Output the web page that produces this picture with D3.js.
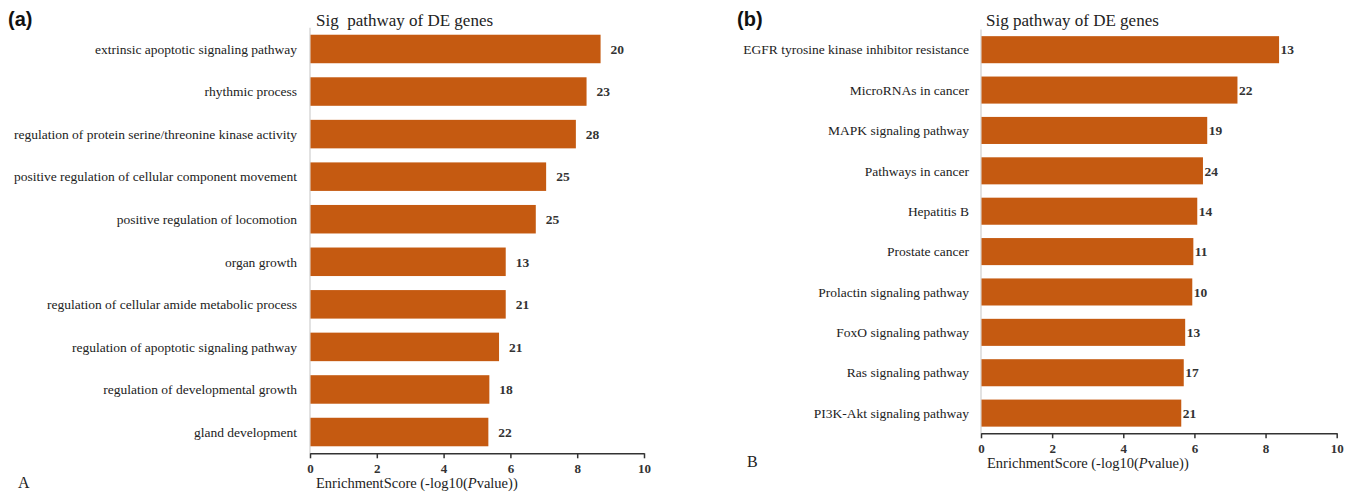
<!DOCTYPE html>
<html>
<head>
<meta charset="utf-8">
<script src="https://cdn.jsdelivr.net/npm/d3@7"></script>
<style>
  html, body { margin: 0; padding: 0; background: #ffffff; }
  svg { display: block; }
</style>
</head>
<body>
<svg id="chart" width="1357" height="492"></svg>
<script>
// GO terms (panel a) and KEGG pathways (panel b), top to bottom
const goTerms = [
  "extrinsic apoptotic signaling pathway",
  "rhythmic process",
  "regulation of protein serine/threonine kinase activity",
  "positive regulation of cellular component movement",
  "positive regulation of locomotion",
  "organ growth",
  "regulation of cellular amide metabolic process",
  "regulation of apoptotic signaling pathway",
  "regulation of developmental growth",
  "gland development"
];
const goScores = [8.70, 8.28, 7.96, 7.07, 6.76, 5.86, 5.86, 5.66, 5.37, 5.34];
const goCounts = [20, 23, 28, 25, 25, 13, 21, 21, 18, 22];

const keggTerms = [
  "EGFR tyrosine kinase inhibitor resistance",
  "MicroRNAs in cancer",
  "MAPK signaling pathway",
  "Pathways in cancer",
  "Hepatitis B",
  "Prostate cancer",
  "Prolactin signaling pathway",
  "FoxO signaling pathway",
  "Ras signaling pathway",
  "PI3K-Akt signaling pathway"
];
const keggScores = [8.38, 7.21, 6.36, 6.24, 6.08, 5.97, 5.94, 5.74, 5.70, 5.63];
const keggCounts = [13, 22, 19, 24, 14, 11, 10, 13, 17, 21];

const xTicks = [0, 2, 4, 6, 8, 10];

const BAR = "#c55a11";
const SERIF = "'Liberation Serif', 'Times New Roman', serif";
const svg = d3.select("#chart");

function drawPanel(p) {
  const g = svg.append("g");

  const x = d3.scaleLinear().domain([0, 10]).range([p.x0, p.x1]);
  const y = d3.scaleBand().domain(p.terms).range([p.yTop, p.yBottom])
    .paddingInner(0.33).paddingOuter(0.165);

  // chart title
  g.append("text")
    .attr("x", p.titleX).attr("y", p.titleY)
    .attr("font-family", SERIF).attr("font-size", 17)
    .attr("fill", "#222")
    .style("white-space", "pre")
    .text(p.title);

  // vertical category baseline
  g.append("line")
    .attr("x1", x(0)).attr("x2", x(0))
    .attr("y1", p.yTop).attr("y2", p.yBottom)
    .attr("stroke", "#d9d9d9").attr("stroke-width", 1.5);

  // bars
  const rows = p.terms.map((t, i) => ({ term: t, score: p.scores[i], count: p.counts[i] }));
  g.selectAll("rect.bar").data(rows).join("rect")
    .attr("class", "bar")
    .attr("x", x(0) + 0.5)
    .attr("y", d => y(d.term))
    .attr("width", d => x(d.score) - x(0) - 0.5)
    .attr("height", y.bandwidth())
    .attr("fill", BAR);

  // gene counts at bar ends
  g.selectAll("text.count").data(rows).join("text")
    .attr("class", "count")
    .attr("x", d => x(d.score) + p.countGap)
    .attr("y", d => y(d.term) + y.bandwidth() / 2)
    .attr("dy", "0.35em")
    .attr("font-family", SERIF).attr("font-size", 13.5).attr("font-weight", "bold")
    .attr("fill", "#333")
    .text(d => d.count);

  // category labels
  g.selectAll("text.term").data(rows).join("text")
    .attr("class", "term")
    .attr("x", x(0) - p.labelGap)
    .attr("y", d => y(d.term) + y.bandwidth() / 2)
    .attr("dy", "0.35em")
    .attr("text-anchor", "end")
    .attr("font-family", SERIF).attr("font-size", 13.5)
    .attr("fill", "#222")
    .text(d => d.term);

  // x axis
  const axis = g.append("g")
    .attr("transform", `translate(0,${p.yBottom})`)
    .call(d3.axisBottom(x).tickValues(xTicks).tickSize(5).tickSizeOuter(0).tickFormat(d3.format("d")));
  axis.select(".domain").attr("stroke", "#333").attr("stroke-width", 1.5);
  axis.selectAll(".tick line").attr("stroke", "#333").attr("stroke-width", 1.5);
  axis.selectAll(".tick text")
    .attr("font-family", SERIF).attr("font-size", 13).attr("font-weight", "bold")
    .attr("fill", "#333").attr("y", 10).attr("dy", "0.71em");

  // axis title
  const at = g.append("text")
    .attr("x", p.x0 + 6).attr("y", p.yBottom + 35)
    .attr("font-family", SERIF).attr("font-size", 14.5)
    .attr("fill", "#222");
  at.append("tspan").text("EnrichmentScore (-log10(");
  at.append("tspan").attr("font-style", "italic").text("P");
  at.append("tspan").text("value))");

  // panel tags
  g.append("text")
    .attr("x", p.tagX).attr("y", 26)
    .attr("font-family", "'Liberation Sans', Arial, sans-serif")
    .attr("font-size", 20).attr("font-weight", "bold").attr("fill", "#111")
    .text(p.tag);
  g.append("text")
    .attr("x", p.letterX).attr("y", p.letterY)
    .attr("font-family", SERIF).attr("font-size", 16).attr("fill", "#222")
    .text(p.letter);
}

drawPanel({
  terms: goTerms, scores: goScores, counts: goCounts,
  x0: 310, x1: 644, yTop: 27.7, yBottom: 453.3,
  title: "Sig  pathway of DE genes", titleX: 316, titleY: 26,
  countGap: 10, labelGap: 13,
  tag: "(a)", tagX: 8, letter: "A", letterX: 18, letterY: 488
});

drawPanel({
  terms: keggTerms, scores: keggScores, counts: keggCounts,
  x0: 981, x1: 1336.7, yTop: 29.5, yBottom: 433.3,
  title: "Sig pathway of DE genes", titleX: 986, titleY: 26,
  countGap: 1.5, labelGap: 12,
  tag: "(b)", tagX: 737, letter: "B", letterX: 747, letterY: 467
});
</script>
</body>
</html>
